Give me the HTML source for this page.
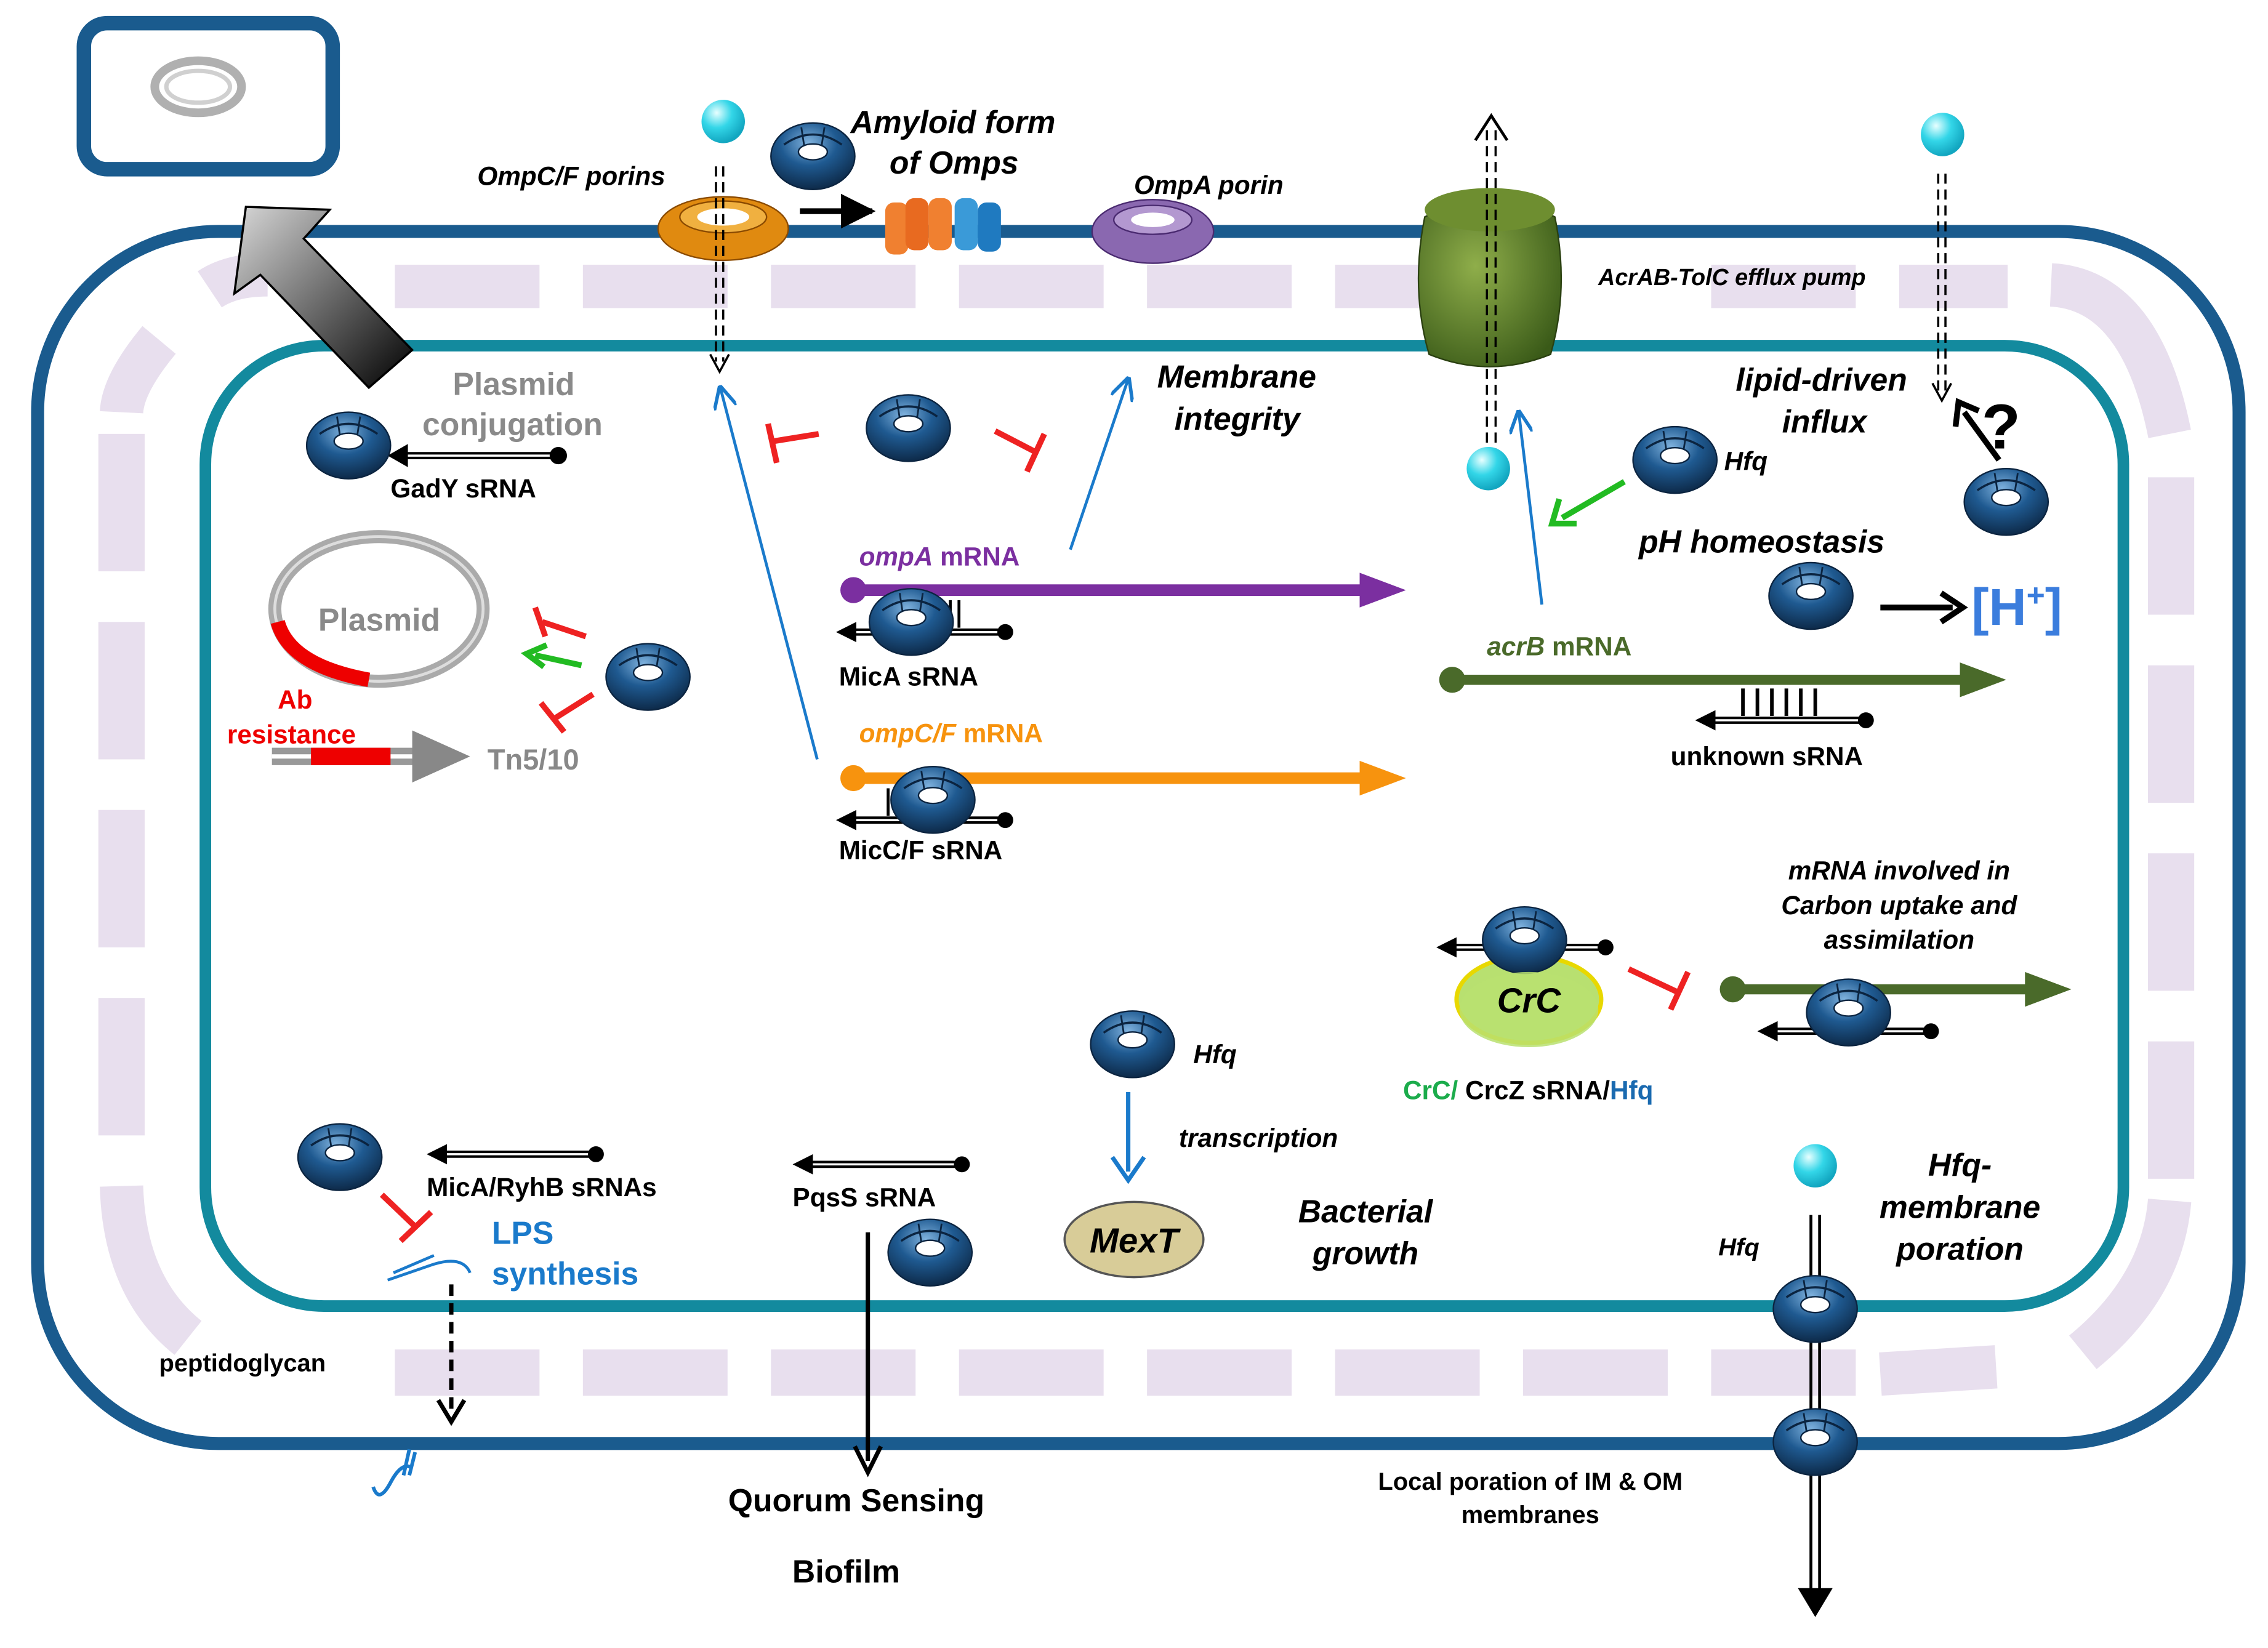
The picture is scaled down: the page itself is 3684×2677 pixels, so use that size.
<!DOCTYPE html>
<html><head><meta charset="utf-8">
<style>
html,body{margin:0;padding:0;background:#fff;}
svg{display:block;}
text{font-family:"Liberation Sans",Arial,sans-serif;font-weight:bold;}
.i{font-style:italic;}
</style></head>
<body>
<svg width="3684" height="2677" viewBox="0 0 1568 1139.4" preserveAspectRatio="none" xmlns="http://www.w3.org/2000/svg">
<defs>
<radialGradient id="hg" cx="0.45" cy="0.3" r="0.75">
<stop offset="0" stop-color="#7fb2de"/><stop offset="0.45" stop-color="#1f5a91"/><stop offset="1" stop-color="#0b2440"/>
</radialGradient>
<radialGradient id="bg" cx="0.35" cy="0.3" r="0.7">
<stop offset="0" stop-color="#e8ffff"/><stop offset="0.5" stop-color="#33d6e8"/><stop offset="1" stop-color="#12a6c0"/>
</radialGradient>
<linearGradient id="ag" x1="0" y1="0" x2="1" y2="1">
<stop offset="0" stop-color="#d8d8d8"/><stop offset="1" stop-color="#000"/>
</linearGradient>
<radialGradient id="gg" cx="0.4" cy="0.4" r="0.7">
<stop offset="0" stop-color="#8fae4a"/><stop offset="1" stop-color="#3a5a18"/>
</radialGradient>
<g id="hfq">
<ellipse cx="0" cy="0" rx="29" ry="23" fill="url(#hg)" stroke="#0b2440" stroke-width="1"/>
<path d="M-20,-8 Q0,-22 20,-8" stroke="#0b2440" stroke-width="1.5" fill="none"/>
<line x1="-8" y1="-20" x2="-6" y2="-7" stroke="#0b2440" stroke-width="1.2"/>
<line x1="8" y1="-20" x2="6" y2="-7" stroke="#0b2440" stroke-width="1.2"/>
<ellipse cx="0" cy="-3" rx="10" ry="5.5" fill="#fff" stroke="#0b2440" stroke-width="1"/>
</g>
<marker id="ab" viewBox="0 0 10 10" refX="9" refY="5" markerWidth="6" markerHeight="6" orient="auto-start-reverse"><path d="M0,0 L10,5 L0,10 z" fill="#000"/></marker>
<marker id="abl" viewBox="0 0 10 10" refX="9" refY="5" markerWidth="8" markerHeight="8" orient="auto"><path d="M0,0 L10,5 L0,10" fill="none" stroke="#1a7acb" stroke-width="1.5"/></marker>
</defs>

<!-- top-left box -->
<rect x="58" y="16" width="172" height="101" rx="16" fill="#fff" stroke="#1a5b8e" stroke-width="10"/>
<ellipse cx="137" cy="60" rx="30" ry="18" fill="none" stroke="#b0b0b0" stroke-width="6"/>
<ellipse cx="137" cy="60" rx="22" ry="11" fill="none" stroke="#d0d0d0" stroke-width="3"/>

<!-- outer membrane -->
<rect x="26" y="160" width="1522" height="838" rx="125" fill="none" stroke="#1a5b8e" stroke-width="9"/>
<!-- periplasm dashes -->
<g fill="#e8dfee">
<rect x="273" y="183" width="100" height="30"/><rect x="403" y="183" width="100" height="30"/><rect x="533" y="183" width="100" height="30"/>
<rect x="663" y="183" width="100" height="30"/><rect x="793" y="183" width="100" height="30"/><rect x="923" y="183" width="100" height="30"/>
<rect x="1183" y="183" width="100" height="30"/><rect x="1313" y="183" width="75" height="30"/>
<rect x="273" y="933" width="100" height="32"/><rect x="403" y="933" width="100" height="32"/><rect x="533" y="933" width="100" height="32"/>
<rect x="663" y="933" width="100" height="32"/><rect x="793" y="933" width="100" height="32"/><rect x="923" y="933" width="100" height="32"/>
<rect x="1053" y="933" width="100" height="32"/><rect x="1183" y="933" width="100" height="32"/>
<rect x="68" y="300" width="32" height="95"/><rect x="68" y="430" width="32" height="95"/><rect x="68" y="560" width="32" height="95"/>
<rect x="68" y="690" width="32" height="95"/>
<rect x="1485" y="330" width="32" height="95"/><rect x="1485" y="460" width="32" height="95"/><rect x="1485" y="590" width="32" height="95"/>
<rect x="1485" y="720" width="32" height="95"/>
</g>
<g fill="none" stroke="#e8dfee" stroke-width="30">
<path d="M145,200 Q160,190 185,190"/><path d="M110,235 Q85,265 84,285"/>
<path d="M84,820 Q86,890 130,925"/><path d="M1418,197 Q1480,200 1500,300"/>
<path d="M1500,830 Q1495,890 1440,935"/><path d="M1300,950 L1380,945"/>
</g>
<!-- inner membrane -->
<rect x="142" y="239" width="1326" height="664" rx="82" fill="none" stroke="#138a9e" stroke-width="8"/>

<!-- big gray arrow -->
<polygon points="170,143 228,145 210,165 285,242 255,268 180,190 162,203" fill="url(#ag)" stroke="#000" stroke-width="1.5"/>

<!-- porins -->
<ellipse cx="500" cy="158" rx="45" ry="22" fill="#e08a10" stroke="#8a4a00" stroke-width="1"/>
<ellipse cx="500" cy="150" rx="30" ry="11" fill="#f0b040" stroke="#8a4a00"/>
<ellipse cx="500" cy="150" rx="18" ry="6" fill="#fff"/>
<ellipse cx="797" cy="160" rx="42" ry="22" fill="#8a68b0" stroke="#4a2a70"/>
<ellipse cx="797" cy="152" rx="27" ry="10" fill="#b398d0" stroke="#4a2a70"/>
<ellipse cx="797" cy="152" rx="15" ry="5" fill="#fff"/>
<g><rect x="612" y="140" width="16" height="36" rx="6" fill="#f08030"/><rect x="626" y="137" width="16" height="36" rx="6" fill="#e86a20"/>
<rect x="642" y="137" width="16" height="36" rx="6" fill="#f08030"/><rect x="660" y="137" width="16" height="36" rx="6" fill="#3a9ad8"/><rect x="676" y="140" width="16" height="34" rx="6" fill="#1f7ac0"/></g>
<line x1="553" y1="146" x2="603" y2="146" stroke="#000" stroke-width="4" marker-end="url(#ab)"/>
<!-- AcrAB-TolC -->
<path d="M985,150 Q975,200 988,245 Q1030,262 1072,245 Q1085,200 1075,150 Q1030,125 985,150z" fill="url(#gg)" stroke="#2a4010"/>
<ellipse cx="1030" cy="145" rx="45" ry="15" fill="#6e8e30"/>

<!-- dashed transport lines -->
<g stroke="#000" stroke-width="1.5" stroke-dasharray="7,4" fill="none">
<line x1="495" y1="115" x2="495" y2="250"/><line x1="500" y1="115" x2="500" y2="250"/>
<line x1="1028" y1="90" x2="1028" y2="315"/><line x1="1034" y1="90" x2="1034" y2="315"/>
<line x1="1340" y1="120" x2="1340" y2="270"/><line x1="1345" y1="120" x2="1345" y2="270"/>
</g>
<path d="M491,245 L497.5,257 L504,245" fill="none" stroke="#000" stroke-width="1.5"/>
<path d="M1020,97 L1031,80 L1042,97" fill="none" stroke="#000" stroke-width="2"/>
<path d="M1336,265 L1342.5,277 L1349,265" fill="none" stroke="#000" stroke-width="1.5"/>

<!-- balls -->
<circle cx="500" cy="84" r="15" fill="url(#bg)"/><circle cx="1343" cy="93" r="15" fill="url(#bg)"/>
<circle cx="1029" cy="324" r="15" fill="url(#bg)"/><circle cx="1255" cy="806" r="15" fill="url(#bg)"/>

<!-- top labels -->
<text x="330" y="128" font-size="18" class="i">OmpC/F porins</text>
<text x="588" y="92" font-size="22" class="i">Amyloid form</text>
<text x="615" y="120" font-size="22" class="i">of Omps</text>
<text x="784" y="134" font-size="18" class="i">OmpA porin</text>
<text x="1105" y="197" font-size="16" class="i">AcrAB-TolC efflux pump</text>
<text x="800" y="268" font-size="22" class="i">Membrane</text>
<text x="812" y="297" font-size="22" class="i">integrity</text>
<text x="1200" y="270" font-size="22" class="i">lipid-driven</text>
<text x="1232" y="299" font-size="22" class="i">influx</text>
<text x="1370" y="310" font-size="44" font-weight="bold">?</text>
<line x1="1382" y1="318" x2="1358" y2="285" stroke="#000" stroke-width="4"/>
<path d="M1352,295 L1354,278 L1368,284" fill="none" stroke="#000" stroke-width="4"/>

<!-- plasmid conjugation -->
<text x="313" y="273" font-size="22" fill="#8a8a8a">Plasmid</text>
<text x="292" y="301" font-size="22" fill="#8a8a8a">conjugation</text>
<line x1="385" y1="315" x2="278" y2="315" stroke="#000" stroke-width="5"/><line x1="385" y1="315" x2="278" y2="315" stroke="#fff" stroke-width="1.5"/>
<polygon points="268,315 282,307 282,323" fill="#000"/><circle cx="386" cy="315" r="6"/>
<text x="270" y="344" font-size="18">GadY sRNA</text>

<!-- plasmid -->
<ellipse cx="262" cy="421" rx="72" ry="50" fill="none" stroke="#aaa" stroke-width="9"/>
<ellipse cx="262" cy="421" rx="72" ry="50" fill="none" stroke="#ddd" stroke-width="2"/>
<path d="M192,430 Q200,460 255,470" fill="none" stroke="#e00" stroke-width="10"/>
<text x="220" y="436" font-size="22" fill="#8a8a8a">Plasmid</text>
<text x="192" y="490" font-size="18" fill="#e00">Ab</text>
<text x="157" y="514" font-size="18" fill="#e00">resistance</text>
<line x1="188" y1="523" x2="290" y2="523" stroke="#999" stroke-width="12"/><line x1="188" y1="523" x2="290" y2="523" stroke="#fff" stroke-width="3"/>
<line x1="215" y1="523" x2="270" y2="523" stroke="#e00" stroke-width="12"/>
<polygon points="285,505 325,523 285,541" fill="#888"/>
<text x="337" y="532" font-size="20" fill="#888">Tn5/10</text>
<g stroke="#e22" stroke-width="4" fill="none">
<line x1="405" y1="440" x2="375" y2="430"/><line x1="370" y1="420" x2="377" y2="440"/>
<line x1="410" y1="480" x2="383" y2="497"/><line x1="374" y1="486" x2="390" y2="506"/>
</g>
<line x1="402" y1="460" x2="370" y2="453" stroke="#2b2" stroke-width="4"/><path d="M378,446 L364,452 L376,461" fill="none" stroke="#2b2" stroke-width="4"/>

<!-- red inhibitions near central Hfq -->
<g stroke="#e22" stroke-width="4" fill="none">
<line x1="566" y1="300" x2="535" y2="305"/><line x1="531" y1="293" x2="537" y2="320"/>
<line x1="688" y1="298" x2="715" y2="312"/><line x1="722" y1="300" x2="710" y2="326"/>
<line x1="1126" y1="670" x2="1160" y2="686"/><line x1="1167" y1="672" x2="1155" y2="698"/>
<line x1="264" y1="826" x2="287" y2="848"/><line x1="277" y1="858" x2="298" y2="838"/>
</g>

<!-- blue arrows -->
<g stroke="#1a7acb" stroke-width="2" fill="none">
<line x1="565" y1="525" x2="498" y2="268" marker-end="url(#abl)"/>
<line x1="740" y1="380" x2="780" y2="262" marker-end="url(#abl)"/>
<line x1="1066" y1="418" x2="1050" y2="285" marker-end="url(#abl)"/>
</g>
<line x1="1123" y1="333" x2="1080" y2="358" stroke="#2b2" stroke-width="4"/><path d="M1078,345 L1073,362 L1090,362" fill="none" stroke="#2b2" stroke-width="4"/>

<!-- ompA -->
<line x1="590" y1="408" x2="945" y2="408" stroke="#7b2fa0" stroke-width="8"/>
<polygon points="940,396 972,408 940,420" fill="#7b2fa0"/><circle cx="590" cy="408" r="9" fill="#7b2fa0"/>
<text x="594" y="391" font-size="18" fill="#7b2fa0"><tspan class="i">ompA</tspan> mRNA</text>
<line x1="695" y1="437" x2="588" y2="437" stroke="#000" stroke-width="5"/><line x1="695" y1="437" x2="588" y2="437" stroke="#fff" stroke-width="1.5"/>
<polygon points="578,437 592,430 592,444"/><circle cx="695" cy="437" r="5.5"/>
<g stroke="#000" stroke-width="2"><line x1="657" y1="415" x2="657" y2="434"/><line x1="663" y1="415" x2="663" y2="434"/></g>
<text x="580" y="474" font-size="18">MicA sRNA</text>

<!-- ompC/F -->
<line x1="590" y1="538" x2="945" y2="538" stroke="#f7930e" stroke-width="8"/>
<polygon points="940,526 972,538 940,550" fill="#f7930e"/><circle cx="590" cy="538" r="9" fill="#f7930e"/>
<text x="594" y="513" font-size="18" fill="#f7930e"><tspan class="i">ompC/F</tspan> mRNA</text>
<line x1="695" y1="567" x2="588" y2="567" stroke="#000" stroke-width="5"/><line x1="695" y1="567" x2="588" y2="567" stroke="#fff" stroke-width="1.5"/>
<polygon points="578,567 592,560 592,574"/><circle cx="695" cy="567" r="5.5"/>
<g stroke="#000" stroke-width="2"><line x1="614" y1="545" x2="614" y2="564"/><line x1="620" y1="545" x2="620" y2="564"/></g>
<text x="580" y="594" font-size="18">MicC/F sRNA</text>

<!-- acrB -->
<line x1="1004" y1="470" x2="1360" y2="470" stroke="#4a6a2a" stroke-width="7"/>
<polygon points="1355,458 1387,470 1355,482" fill="#4a6a2a"/><circle cx="1004" cy="470" r="9" fill="#4a6a2a"/>
<text x="1028" y="453" font-size="18" fill="#4a6a2a"><tspan class="i">acrB</tspan> mRNA</text>
<line x1="1290" y1="498" x2="1182" y2="498" stroke="#000" stroke-width="5"/><line x1="1290" y1="498" x2="1182" y2="498" stroke="#fff" stroke-width="1.5"/>
<polygon points="1172,498 1186,491 1186,505"/><circle cx="1290" cy="498" r="5.5"/>
<g stroke="#000" stroke-width="2.5"><line x1="1205" y1="476" x2="1205" y2="495"/><line x1="1215" y1="476" x2="1215" y2="495"/><line x1="1225" y1="476" x2="1225" y2="495"/><line x1="1235" y1="476" x2="1235" y2="495"/><line x1="1245" y1="476" x2="1245" y2="495"/><line x1="1255" y1="476" x2="1255" y2="495"/></g>
<text x="1155" y="529" font-size="18">unknown sRNA</text>

<!-- pH -->
<text x="1133" y="382" font-size="22" class="i">pH homeostasis</text>
<text x="1192" y="325" font-size="18" class="i">Hfq</text>
<line x1="1300" y1="420" x2="1350" y2="420" stroke="#000" stroke-width="4"/><path d="M1342,410 L1357,420 L1342,430" fill="none" stroke="#000" stroke-width="4"/>
<text x="1363" y="432" font-size="36" fill="#3b7ddd" font-weight="bold">[H<tspan font-size="22" dy="-13">+</tspan><tspan dy="13">]</tspan></text>

<!-- Carbon -->
<text x="1313" y="608" font-size="18" class="i" text-anchor="middle">mRNA involved in</text>
<text x="1313" y="632" font-size="18" class="i" text-anchor="middle">Carbon uptake and</text>
<text x="1313" y="656" font-size="18" class="i" text-anchor="middle">assimilation</text>
<line x1="1198" y1="684" x2="1405" y2="684" stroke="#4a6a2a" stroke-width="7"/>
<polygon points="1400,672 1432,684 1400,696" fill="#4a6a2a"/><circle cx="1198" cy="684" r="9" fill="#4a6a2a"/>
<ellipse cx="1057" cy="691" rx="50" ry="30" fill="#b8e070" stroke="#e8d800" stroke-width="3"/>
<line x1="1110" y1="655" x2="1003" y2="655" stroke="#000" stroke-width="5"/><line x1="1110" y1="655" x2="1003" y2="655" stroke="#fff" stroke-width="1.5"/>
<polygon points="993,655 1007,648 1007,662"/><circle cx="1110" cy="655" r="5.5"/>
<use href="#hfq" x="1054" y="650"/>
<ellipse cx="1057" cy="698" rx="48" ry="26" fill="#b8e070" opacity="0.85"/>
<text x="1057" y="700" font-size="24" class="i" text-anchor="middle">CrC</text>
<line x1="1335" y1="713" x2="1225" y2="713" stroke="#000" stroke-width="5"/><line x1="1335" y1="713" x2="1225" y2="713" stroke="#fff" stroke-width="1.5"/>
<polygon points="1215,713 1229,706 1229,720"/><circle cx="1335" cy="713" r="5.5"/>
<use href="#hfq" x="1278" y="700"/>
<text x="970" y="760" font-size="18"><tspan fill="#1cac4c">CrC/</tspan> CrcZ sRNA/<tspan fill="#1a6ab0">Hfq</tspan></text>

<!-- MexT -->
<text x="825" y="735" font-size="18" class="i">Hfq</text>
<line x1="780" y1="755" x2="780" y2="810" stroke="#1a7acb" stroke-width="3"/><path d="M769,800 L780,816 L791,800" fill="none" stroke="#1a7acb" stroke-width="3"/>
<text x="815" y="793" font-size="18" class="i">transcription</text>
<ellipse cx="784" cy="857" rx="48" ry="26" fill="#d8cc98" stroke="#555" stroke-width="1.5"/>
<text x="784" y="866" font-size="24" class="i" text-anchor="middle">MexT</text>
<text x="944" y="845" font-size="22" class="i" text-anchor="middle">Bacterial</text>
<text x="944" y="874" font-size="22" class="i" text-anchor="middle">growth</text>

<!-- PqsS -->
<line x1="665" y1="805" x2="558" y2="805" stroke="#000" stroke-width="5"/><line x1="665" y1="805" x2="558" y2="805" stroke="#fff" stroke-width="1.5"/>
<polygon points="548,805 562,798 562,812"/><circle cx="665" cy="805" r="5.5"/>
<text x="548" y="834" font-size="18">PqsS sRNA</text>
<line x1="600" y1="852" x2="600" y2="1010" stroke="#000" stroke-width="3"/><path d="M591,1000 L600,1018 L609,1000" fill="none" stroke="#000" stroke-width="3"/>
<text x="592" y="1045" font-size="22" text-anchor="middle">Quorum Sensing</text>
<text x="585" y="1094" font-size="22" text-anchor="middle">Biofilm</text>

<!-- LPS -->
<line x1="412" y1="798" x2="305" y2="798" stroke="#000" stroke-width="5"/><line x1="412" y1="798" x2="305" y2="798" stroke="#fff" stroke-width="1.5"/>
<polygon points="295,798 309,791 309,805"/><circle cx="412" cy="798" r="5.5"/>
<text x="295" y="827" font-size="18">MicA/RyhB sRNAs</text>
<text x="340" y="860" font-size="22" fill="#1a7acb">LPS</text>
<text x="340" y="888" font-size="22" fill="#1a7acb">synthesis</text>
<path d="M268,885 L300,874 Q320,868 325,880" fill="none" stroke="#1a7acb" stroke-width="2"/>
<path d="M272,880 L300,868" fill="none" stroke="#1a7acb" stroke-width="2"/>
<line x1="312" y1="888" x2="312" y2="975" stroke="#000" stroke-width="3" stroke-dasharray="8,5"/><path d="M303,968 L312,983 L321,968" fill="none" stroke="#000" stroke-width="3"/>
<text x="110" y="948" font-size="17">peptidoglycan</text>
<path d="M258,1028 Q262,1040 270,1025 Q278,1010 285,1015 M283,1002 L279,1020 M287,1004 L283,1020" fill="none" stroke="#1a7acb" stroke-width="2.5"/>

<!-- Hfq poration -->
<text x="1355" y="813" font-size="22" class="i" text-anchor="middle">Hfq-</text>
<text x="1355" y="842" font-size="22" class="i" text-anchor="middle">membrane</text>
<text x="1355" y="871" font-size="22" class="i" text-anchor="middle">poration</text>
<text x="1188" y="868" font-size="17" class="i">Hfq</text>
<line x1="1252" y1="840" x2="1252" y2="1105" stroke="#000" stroke-width="2"/><line x1="1258" y1="840" x2="1258" y2="1105" stroke="#000" stroke-width="2"/>
<path d="M1243,1098 L1255,1118 L1267,1098 z" fill="#000"/>
<text x="1058" y="1030" font-size="17" text-anchor="middle">Local poration of IM &amp; OM</text>
<text x="1058" y="1053" font-size="17" text-anchor="middle">membranes</text>

<!-- Hfq instances -->
<use href="#hfq" x="241" y="308"/><use href="#hfq" x="628" y="296"/><use href="#hfq" x="448" y="468"/>
<use href="#hfq" x="630" y="430"/><use href="#hfq" x="645" y="553"/><use href="#hfq" x="1158" y="318"/>
<use href="#hfq" x="1387" y="347"/><use href="#hfq" x="1252" y="412"/><use href="#hfq" x="783" y="722"/>
<use href="#hfq" x="235" y="800"/><use href="#hfq" x="643" y="866"/><use href="#hfq" x="1255" y="905"/>
<use href="#hfq" x="1255" y="997"/><use href="#hfq" x="562" y="108"/>
</svg>
</body></html>
